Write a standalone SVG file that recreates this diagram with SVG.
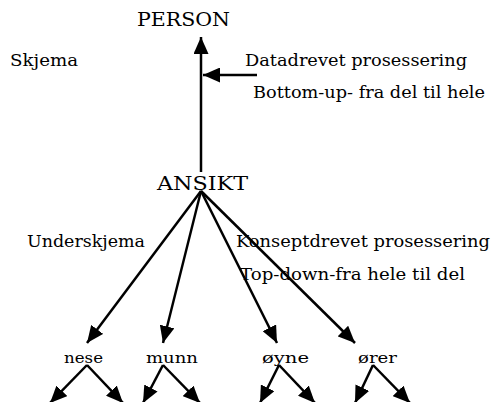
<svg xmlns="http://www.w3.org/2000/svg" width="498" height="402" viewBox="0 0 498 402">
  <style>
    text { font-family: "DejaVu Serif", "Liberation Serif", serif; fill: #000; }
    .big { font-size: 19px; }
    .lbl { font-size: 16px; }
    .small { font-size: 14px; }
    .edge { stroke: #000; stroke-width: 2.5; fill: none; marker-end: url(#head); }
  </style>
  <defs>
    <marker id="head" markerUnits="userSpaceOnUse" markerWidth="17" markerHeight="15" refX="17" refY="7.5" orient="auto">
      <path d="M0,0 L17,7.5 L0,15 z" fill="#000"/>
    </marker>
  </defs>

  <rect width="498" height="402" fill="#fff"/>

  <!-- free labels -->
  <text class="lbl" x="10" y="66" textLength="68" lengthAdjust="spacingAndGlyphs">Skjema</text>
  <text class="lbl" x="245" y="66" textLength="222" lengthAdjust="spacingAndGlyphs">Datadrevet prosessering</text>
  <text class="lbl" x="253" y="98" textLength="232" lengthAdjust="spacingAndGlyphs">Bottom-up- fra del til hele</text>
  <text class="lbl" x="27" y="247" textLength="118" lengthAdjust="spacingAndGlyphs">Underskjema</text>
  <text class="lbl" x="236" y="247" textLength="254" lengthAdjust="spacingAndGlyphs">Konseptdrevet prosessering</text>
  <text class="lbl" x="240" y="280" textLength="225" lengthAdjust="spacingAndGlyphs">Top-down-fra hele til del</text>

  <!-- nodes -->
  <g id="person"><text class="big" x="137" y="26" textLength="93" lengthAdjust="spacingAndGlyphs">PERSON</text></g>
  <g id="ansikt"><text class="big" x="157" y="190" textLength="91" lengthAdjust="spacingAndGlyphs">ANSIKT</text></g>
  <g id="nese"><text class="small" x="64" y="363" textLength="39" lengthAdjust="spacingAndGlyphs">nese</text></g>
  <g id="munn"><text class="small" x="146" y="363" textLength="52" lengthAdjust="spacingAndGlyphs">munn</text></g>
  <g id="oyne"><text class="small" x="262" y="363" textLength="47" lengthAdjust="spacingAndGlyphs">øyne</text></g>
  <g id="orer"><text class="small" x="358" y="363" textLength="39" lengthAdjust="spacingAndGlyphs">ører</text></g>

  <!-- connectors -->
  <g id="connectors">
    <path class="edge" d="M201,172 L201,37"/>
    <path class="edge" d="M257,75 L203,75"/>
    <path class="edge" d="M201,191 L87,343"/>
    <path class="edge" d="M201,191 L163,343"/>
    <path class="edge" d="M201,191 L277,343"/>
    <path class="edge" d="M201,191 L355,343"/>
    <path class="edge" d="M87,365 L50,403"/>
    <path class="edge" d="M87,365 L123,403"/>
    <path class="edge" d="M163,365 L143,403"/>
    <path class="edge" d="M163,365 L200,403"/>
    <path class="edge" d="M279,365 L260,403"/>
    <path class="edge" d="M279,365 L315,403"/>
    <path class="edge" d="M373,365 L355,403"/>
    <path class="edge" d="M373,365 L410,403"/>
  </g>
</svg>
